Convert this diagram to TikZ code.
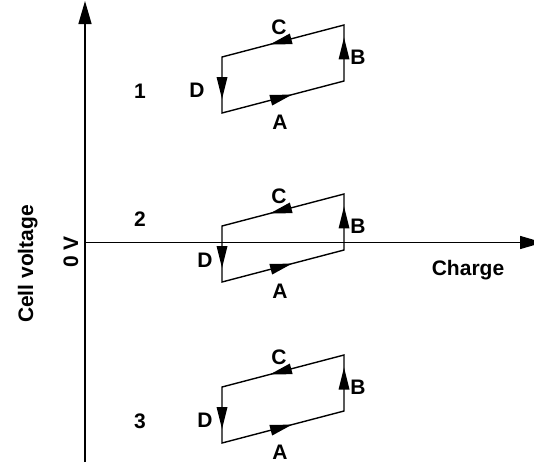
\documentclass[tikz,border=0pt]{standalone}
\usepackage{fontspec}
\setmainfont{Liberation Sans}
\usetikzlibrary{arrows.meta,calc}
\newcommand\mytri[3]{%
  \coordinate (tt) at ($(#1)!#3!(#2)$);
  \coordinate (bb) at ($(tt)!22pt!(#1)$);
  \fill[line join=miter] ($(bb)!5.5pt!90:(tt)$) -- (tt) -- ($(bb)!5.5pt!-90:(tt)$) -- cycle;
}
\begin{document}
\begin{tikzpicture}[x=1pt,y=-1pt,
  lbl/.style={font=\fontsize{21}{24}\selectfont\bfseries, inner sep=0pt},
  loopline/.style={line width=1.4pt, line join=miter},
  axisline/.style={line width=1.4pt, -{Triangle[length=23pt,width=13pt]}}
]
\useasboundingbox (0,0) rectangle (534,464);
\clip (0,0) rectangle (534,464);
% axes
\coordinate (vbot) at (85,462);
\coordinate (vtop) at (85,1);
\coordinate (horig) at (85,242.5);
\coordinate (hend) at (543,242.5);
\draw[axisline] (vbot) -- (vtop);
\draw[axisline] (horig) -- (hend);
\node[lbl, rotate=90, anchor=base] (cv) at (33,264) {Cell voltage};
\node[lbl, rotate=90, anchor=base] (zv) at (78,252) {0 V};
\node[lbl, anchor=base] (ch) at (468,275) {Charge};
% loops
\foreach \n/\dy in {1/0, 2/169, 3/330} {
  \coordinate (TL\n) at (222, 57+\dy);
  \coordinate (BL\n) at (222, 113+\dy);
  \coordinate (BR\n) at (344, 81+\dy);
  \coordinate (TR\n) at (344, 25+\dy);
  \draw[loopline] (TL\n) -- (BL\n) -- (BR\n) -- (TR\n) -- cycle;
  \mytri{BL\n}{BR\n}{0.574}
  \mytri{BR\n}{TR\n}{0.777}
  \mytri{TR\n}{TL\n}{0.607}
  \mytri{TL\n}{BL\n}{0.75}
  \node[lbl] (C\n) at (279, 27+\dy) {C};
  \node[lbl] (B\n) at (358, 57+\dy) {B};
  \node[lbl] (A\n) at (280, 122+\dy) {A};
}
\node[lbl] (D1) at (197, 90) {D};
\node[lbl] (D2) at (205, 260) {D};
\node[lbl] (D3) at (205, 420) {D};
\node[lbl] (n1) at (140, 91) {1};
\node[lbl] (n2) at (140, 219) {2};
\node[lbl] (n3) at (140, 421) {3};
\end{tikzpicture}
\end{document}
